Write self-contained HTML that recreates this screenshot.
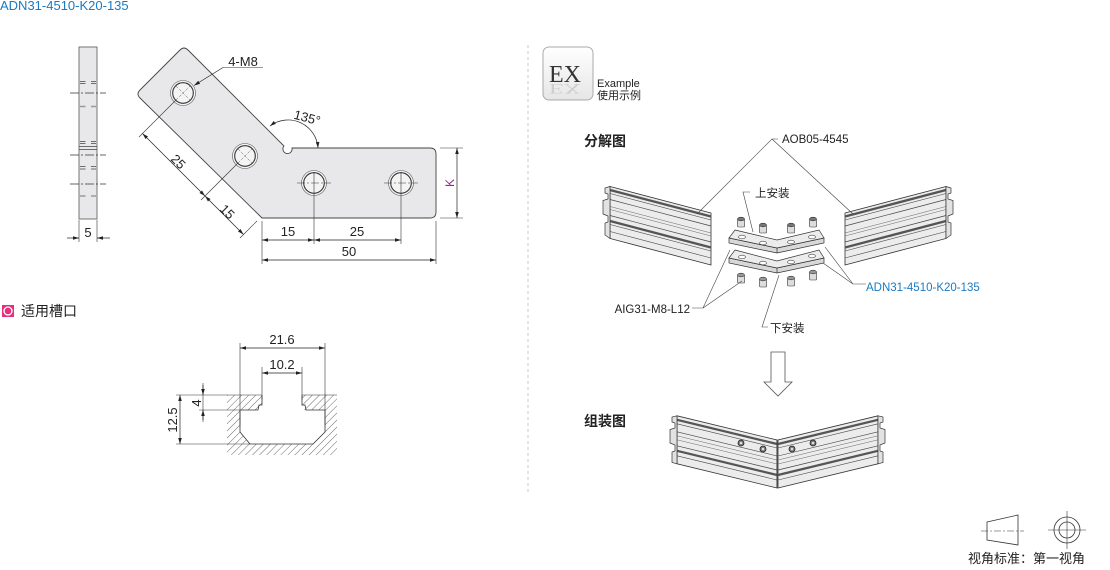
<!DOCTYPE html>
<html><head><meta charset="utf-8"><style>
html,body{margin:0;padding:0;background:#fff;}
svg{display:block;}
text{font-family:"Liberation Sans","Noto Sans CJK SC",sans-serif;}
</style></head><body>
<svg width="1110" height="570" viewBox="0 0 1110 570" xmlns="http://www.w3.org/2000/svg">
<defs>
<marker id="a" viewBox="0 0 10 6" refX="10" refY="3" markerWidth="7" markerHeight="3.6" orient="auto-start-reverse" markerUnits="userSpaceOnUse"><path d="M0,0 L10,3 L0,6 z" fill="#222"/></marker>
<pattern id="h" width="5" height="5" patternUnits="userSpaceOnUse" patternTransform="rotate(45)"><line x1="0" y1="0" x2="0" y2="5" stroke="#444" stroke-width="0.8"/></pattern>
<linearGradient id="exg" x1="0" y1="0" x2="0" y2="1"><stop offset="0" stop-color="#fff"/><stop offset="1" stop-color="#e6e6e6"/></linearGradient>
<clipPath id="exc"><rect x="543" y="47" width="50" height="53" rx="6"/></clipPath>
<g id="rprof">
 <polygon points="845,213 946,186.5 946,238.5 845,265" fill="#ececec" stroke="#333" stroke-width="0.8"/>
 <line x1="845" y1="216.5" x2="946" y2="190" stroke="#555" stroke-width="2.4"/>
 <line x1="845" y1="220" x2="946" y2="193.5" stroke="#444" stroke-width="0.6"/>
 <line x1="845" y1="226" x2="946" y2="199.5" stroke="#444" stroke-width="0.7"/>
 <line x1="845" y1="233" x2="946" y2="206.5" stroke="#666" stroke-width="0.5"/>
 <line x1="845" y1="236" x2="946" y2="209.5" stroke="#666" stroke-width="0.5"/>
 <line x1="845" y1="242" x2="946" y2="215.5" stroke="#444" stroke-width="0.7"/>
 <line x1="845" y1="247.5" x2="946" y2="221" stroke="#555" stroke-width="2.4"/>
 <line x1="845" y1="251" x2="946" y2="224.5" stroke="#444" stroke-width="0.6"/>
 <line x1="845" y1="258" x2="946" y2="231.5" stroke="#444" stroke-width="0.6"/>
 <polygon points="946,186.5 951,188 951,193 948,194 948,199 953,200.5 953,214 948,216 948,222 951,223 951,235 946,238.5" fill="#e2e2e2" stroke="#333" stroke-width="0.7"/>
</g>
<g id="lhalf">
 <polygon points="677,415.8 777,440 777,488 677,463.8" fill="#ececec" stroke="#333" stroke-width="0.8"/>
 <line x1="677" y1="419.8" x2="777" y2="444" stroke="#555" stroke-width="2.2"/>
 <line x1="677" y1="423.8" x2="777" y2="448" stroke="#444" stroke-width="0.6"/>
 <line x1="677" y1="431.8" x2="777" y2="456" stroke="#444" stroke-width="0.6"/>
 <line x1="677" y1="435.8" x2="777" y2="460" stroke="#666" stroke-width="0.5"/>
 <line x1="677" y1="439.8" x2="777" y2="464" stroke="#666" stroke-width="0.5"/>
 <line x1="677" y1="445.8" x2="777" y2="470" stroke="#444" stroke-width="0.7"/>
 <line x1="677" y1="450.8" x2="777" y2="475" stroke="#555" stroke-width="2.2"/>
 <line x1="677" y1="455.8" x2="777" y2="480" stroke="#444" stroke-width="0.6"/>
 <polygon points="677,415.8 672,417 672,422 675,423 675,428 670,429.5 670,443 675,445 675,451 672,452 672,462.5 677,463.8" fill="#e2e2e2" stroke="#333" stroke-width="0.7"/>
</g>
</defs>

<!-- title -->
<text x="0" y="10" font-size="13" fill="#1b7ac2">ADN31-4510-K20-135</text>

<!-- side strip -->
<rect x="79" y="47" width="18" height="172" fill="#e8e8ea" stroke="#555" stroke-width="0.8"/>
<g stroke="#444" stroke-width="0.8">
 <path d="M80,81.5h5.5M91,81.5h5M80,83.5h5.5M91,83.5h5"/>
 <path d="M80,141.5h5.5M91,141.5h5M80,143.5h5.5M91,143.5h5"/>
 <path d="M79,146.5h18M79,149.5h18"/>
 <path d="M80,166.5h5.5M91,166.5h5M80,169h5.5M91,169h5"/>
</g>
<g stroke="#999" stroke-width="1.6">
 <path d="M80,106.5h5.5M91,106.5h5M80,196h5.5M91,196h5"/>
</g>
<g stroke="#333" stroke-width="0.7" stroke-dasharray="9,2,2,2">
 <line x1="70" y1="93" x2="106" y2="93"/><line x1="70" y1="155" x2="106" y2="155"/><line x1="70" y1="184" x2="106" y2="184"/>
</g>
<g stroke="#333" stroke-width="0.6"><line x1="79" y1="220" x2="79" y2="242"/><line x1="97" y1="220" x2="97" y2="242"/></g>
<line x1="67" y1="238" x2="79" y2="238" stroke="#222" stroke-width="0.7" marker-end="url(#a)"/>
<line x1="110" y1="238" x2="97" y2="238" stroke="#222" stroke-width="0.7" marker-end="url(#a)"/>
<text x="88" y="237" font-size="13" text-anchor="middle" fill="#222">5</text>

<!-- main plate -->
<path d="M140,98 Q136,94 140,90 L180,50 Q184,46 188,50 L284,146 A4.6 4.6 0 1 0 292,148 L430,148 Q436,148 436,154 L436,212 Q436,218 430,218 L262,218 L260,216 Z" fill="#e8e8ea" stroke="#444" stroke-width="0.9"/>
<!-- holes -->
<g stroke-width="0.6">
 <circle cx="183" cy="93" r="12.5" fill="#f4f4f4" stroke="#555"/><circle cx="183" cy="93" r="10.3" fill="none" stroke="#333" stroke-width="1.1"/>
 <circle cx="245" cy="156" r="12.5" fill="#f4f4f4" stroke="#555"/><circle cx="245" cy="156" r="10.3" fill="none" stroke="#333" stroke-width="1.1"/>
 <circle cx="314" cy="183" r="12.5" fill="#f4f4f4" stroke="#555"/><circle cx="314" cy="183" r="10.3" fill="none" stroke="#333" stroke-width="1.1"/>
 <circle cx="401" cy="183" r="12.5" fill="#f4f4f4" stroke="#555"/><circle cx="401" cy="183" r="10.3" fill="none" stroke="#333" stroke-width="1.1"/>
</g>
<g stroke="#555" stroke-width="0.5" stroke-dasharray="3,1.5">
 <path d="M176,86 L190,100 M176,100 L190,86 M238,149 L252,163 M238,163 L252,149"/>
</g>
<g stroke="#333" stroke-width="0.6" stroke-dasharray="8,2,2,2">
 <line x1="297" y1="183" x2="331" y2="183"/><line x1="384" y1="183" x2="418" y2="183"/>
</g>
<!-- extension lines -->
<g stroke="#333" stroke-width="0.6" fill="none">
 <line x1="262" y1="221" x2="262" y2="264"/>
 <line x1="314" y1="172" x2="314" y2="244"/>
 <line x1="401" y1="172" x2="401" y2="244"/>
 <line x1="436" y1="221" x2="436" y2="264"/>
 <line x1="440" y1="148" x2="463" y2="148"/>
 <line x1="440" y1="218" x2="463" y2="218"/>
 <line x1="176" y1="100" x2="139" y2="137"/>
 <line x1="238" y1="163" x2="201" y2="200"/>
 <line x1="257" y1="221" x2="240" y2="238"/>
 <path d="M223,67.5 L263,67.5"/>
</g>
<g stroke="#222" stroke-width="0.7" fill="none">
 <line x1="262" y1="240" x2="314" y2="240" marker-start="url(#a)" marker-end="url(#a)"/>
 <line x1="314" y1="240" x2="401" y2="240" marker-start="url(#a)" marker-end="url(#a)"/>
 <line x1="262" y1="260" x2="436" y2="260" marker-start="url(#a)" marker-end="url(#a)"/>
 <line x1="457" y1="148" x2="457" y2="218" marker-start="url(#a)" marker-end="url(#a)"/>
 <line x1="142.5" y1="133.5" x2="205" y2="196" marker-start="url(#a)" marker-end="url(#a)"/>
 <line x1="205" y1="196" x2="243.5" y2="234.5" marker-start="url(#a)" marker-end="url(#a)"/>
 <line x1="223" y1="67.5" x2="194" y2="85.5" marker-end="url(#a)"/>
 <path d="M270,126 A30 30 0 0 1 318,148" marker-start="url(#a)" marker-end="url(#a)"/>
</g>
<g font-size="13" fill="#222" text-anchor="middle">
 <text x="288" y="236">15</text>
 <text x="357" y="236">25</text>
 <text x="349" y="256">50</text>
 <text x="243" y="66">4-M8</text>
 <text transform="translate(306,122) rotate(15)">135°</text>
 <text transform="translate(178,162) rotate(45)" dy="4">25</text>
 <text transform="translate(227,212) rotate(45)" dy="4">15</text>
</g>
<text transform="translate(454,183) rotate(-90)" font-size="12" fill="#93278f" text-anchor="middle">K</text>

<!-- slot section -->
<rect x="2" y="305" width="12" height="12" fill="#e5307e"/>
<circle cx="8" cy="311" r="4" fill="none" stroke="#fff" stroke-width="1.3"/>
<text x="21" y="316" font-size="14" fill="#222">适用槽口</text>

<path fill-rule="evenodd" fill="url(#h)" d="M227,395 L337,395 L337,455 L227,455 Z M262,395 L302,395 L302,410 L325,410 L325,432 L313,444 L250,444 L240,432 L240,410 L262,410 Z"/>
<path d="M262,395 L262,405 L259,405 L258,410 L240,410 L240,432 L250,444 L313,444 L325,432 L325,410 L306,410 L305,405 L302,405 L302,395" fill="none" stroke="#333" stroke-width="0.8"/>
<g stroke="#333" stroke-width="0.6">
 <line x1="176" y1="395" x2="262" y2="395"/>
 <line x1="302" y1="395" x2="337" y2="395"/>
 <line x1="199" y1="410" x2="240" y2="410"/>
 <line x1="176" y1="444" x2="250" y2="444"/>
 <line x1="240" y1="343" x2="240" y2="425"/>
 <line x1="325" y1="343" x2="325" y2="425"/>
 <line x1="262" y1="367" x2="262" y2="400"/>
 <line x1="302" y1="367" x2="302" y2="400"/>
 <line x1="203" y1="383" x2="203" y2="422"/>
</g>
<g stroke="#222" stroke-width="0.7">
 <line x1="240" y1="348" x2="325" y2="348" marker-start="url(#a)" marker-end="url(#a)"/>
 <line x1="262" y1="373" x2="302" y2="373" marker-start="url(#a)" marker-end="url(#a)"/>
 <line x1="180" y1="395" x2="180" y2="444" marker-start="url(#a)" marker-end="url(#a)"/>
 <line x1="203" y1="385" x2="203" y2="395" marker-end="url(#a)"/>
 <line x1="203" y1="420" x2="203" y2="410" marker-end="url(#a)"/>
</g>
<g font-size="13" fill="#222" text-anchor="middle">
 <text x="282" y="344">21.6</text>
 <text x="282" y="369">10.2</text>
 <text transform="translate(201,403) rotate(-90)">4</text>
 <text transform="translate(177,420) rotate(-90)">12.5</text>
</g>

<!-- divider -->
<line x1="528" y1="45" x2="528" y2="495" stroke="#bbb" stroke-width="0.8" stroke-dasharray="3,3"/>

<!-- EX box -->
<rect x="543" y="47" width="50" height="53" rx="6" fill="url(#exg)" stroke="#aaa" stroke-width="1"/>
<g clip-path="url(#exc)">
 <text x="549" y="82" font-size="24" fill="#333" style="font-family:'Liberation Serif',serif">EX</text>
 <text transform="translate(549,84) scale(1,-0.6)" font-size="24" fill="#bbb" opacity="0.6" style="font-family:'Liberation Serif',serif">EX</text>
</g>
<text x="597" y="87" font-size="11" fill="#222">Example</text>
<text x="597" y="99" font-size="11" fill="#222">使用示例</text>

<text x="584" y="146" font-size="14" font-weight="bold" fill="#222">分解图</text>
<text x="584" y="426" font-size="14" font-weight="bold" fill="#222">组装图</text>

<!-- exploded profiles -->
<use href="#rprof"/>
<use href="#rprof" transform="matrix(-1,0,0,1,1556,0)"/>

<!-- plates -->
<g stroke="#333" stroke-width="0.7">
 <polygon points="729,258 777,268 824,258 824,263 777,273 729,263" fill="#d8d8d8"/>
 <polygon points="735,250 777,261 819,250 824,258 777,268 729,258" fill="#ececec"/>
 <polygon points="729,238 777,248 824,238 824,243 777,253 729,243" fill="#d8d8d8"/>
 <polygon points="735,230 777,240 819,230 824,238 777,248 729,238" fill="#ececec"/>
 <line x1="777" y1="248" x2="777" y2="253"/><line x1="777" y1="268" x2="777" y2="273"/>
</g>
<g fill="#fff" stroke="#444" stroke-width="0.6">
 <ellipse cx="742" cy="237" rx="3.5" ry="1.8"/><ellipse cx="763" cy="243" rx="3.5" ry="1.8"/><ellipse cx="791" cy="242" rx="3.5" ry="1.8"/><ellipse cx="812" cy="237" rx="3.5" ry="1.8"/>
 <ellipse cx="742" cy="257" rx="3.5" ry="1.8"/><ellipse cx="763" cy="263" rx="3.5" ry="1.8"/><ellipse cx="791" cy="262" rx="3.5" ry="1.8"/><ellipse cx="812" cy="256" rx="3.5" ry="1.8"/>
</g>
<!-- screws -->
<g stroke="#333" stroke-width="0.6">
 <g transform="translate(741,223)"><rect x="-3.5" y="-4" width="7" height="8" rx="1" fill="#ddd"/><ellipse cx="0" cy="-4" rx="3.5" ry="1.8" fill="#777"/></g>
 <g transform="translate(763,229)"><rect x="-3.5" y="-4" width="7" height="8" rx="1" fill="#ddd"/><ellipse cx="0" cy="-4" rx="3.5" ry="1.8" fill="#777"/></g>
 <g transform="translate(791,229)"><rect x="-3.5" y="-4" width="7" height="8" rx="1" fill="#ddd"/><ellipse cx="0" cy="-4" rx="3.5" ry="1.8" fill="#777"/></g>
 <g transform="translate(813,223)"><rect x="-3.5" y="-4" width="7" height="8" rx="1" fill="#ddd"/><ellipse cx="0" cy="-4" rx="3.5" ry="1.8" fill="#777"/></g>
 <g transform="translate(741,279)"><rect x="-3.5" y="-4" width="7" height="8" rx="1" fill="#ddd"/><ellipse cx="0" cy="-4" rx="3.5" ry="1.8" fill="#999"/></g>
 <g transform="translate(763,283)"><rect x="-3.5" y="-4" width="7" height="8" rx="1" fill="#ddd"/><ellipse cx="0" cy="-4" rx="3.5" ry="1.8" fill="#999"/></g>
 <g transform="translate(791,282)"><rect x="-3.5" y="-4" width="7" height="8" rx="1" fill="#ddd"/><ellipse cx="0" cy="-4" rx="3.5" ry="1.8" fill="#999"/></g>
 <g transform="translate(813,276)"><rect x="-3.5" y="-4" width="7" height="8" rx="1" fill="#ddd"/><ellipse cx="0" cy="-4" rx="3.5" ry="1.8" fill="#999"/></g>
</g>

<!-- leaders -->
<g stroke="#444" stroke-width="0.6" fill="none">
 <path d="M778,139 L772,139 L697,214 M772,139 L853,214"/>
 <path d="M750,192 L743,192 L753,232"/>
 <path d="M768,327 L762,327 L779,275"/>
 <path d="M692,308 L703,308 L730,250 M703,308 L742,281"/>
 <path d="M866,284 L853,284 L825,247 M853,284 L823,263"/>
</g>
<g font-size="11.5" fill="#222">
 <text x="782" y="143">AOB05-4545</text>
 <text x="755" y="197">上安装</text>
 <text x="770" y="332">下安装</text>
 <text x="690" y="313" text-anchor="end">AIG31-M8-L12</text>
 <text x="866" y="291" fill="#1b7ac2">ADN31-4510-K20-135</text>
</g>

<!-- down arrow -->
<polygon points="771,352 785,352 785,382 792,382 778,396 764,382 771,382" fill="#fff" stroke="#555" stroke-width="0.8"/>

<!-- assembled -->
<use href="#lhalf"/>
<use href="#lhalf" transform="matrix(-1,0,0,1,1555,0)"/>
<line x1="777" y1="440" x2="777" y2="488" stroke="#333" stroke-width="0.8"/>
<g stroke="#222" stroke-width="0.8" fill="#777">
 <circle cx="741" cy="443" r="3"/><circle cx="763" cy="449" r="3"/><circle cx="792" cy="449" r="3"/><circle cx="813" cy="443" r="3"/>
</g>
<g fill="#ddd"><circle cx="741" cy="443" r="1.3"/><circle cx="763" cy="449" r="1.3"/><circle cx="792" cy="449" r="1.3"/><circle cx="813" cy="443" r="1.3"/></g>

<!-- view symbol -->
<g stroke="#333" stroke-width="0.8" fill="none">
 <polygon points="987,522 1018,515 1018,545 987,540"/>
 <line x1="981" y1="531" x2="1024" y2="531" stroke-dasharray="7,2,2,2" stroke-width="0.6"/>
 <circle cx="1067" cy="530" r="13"/>
 <circle cx="1067" cy="530" r="8"/>
 <line x1="1048" y1="530" x2="1086" y2="530" stroke-width="0.6"/>
 <line x1="1067" y1="511" x2="1067" y2="549" stroke-width="0.6"/>
</g>
<text x="968" y="563" font-size="13" fill="#222">视角标准：第一视角</text>
</svg>
</body></html>
